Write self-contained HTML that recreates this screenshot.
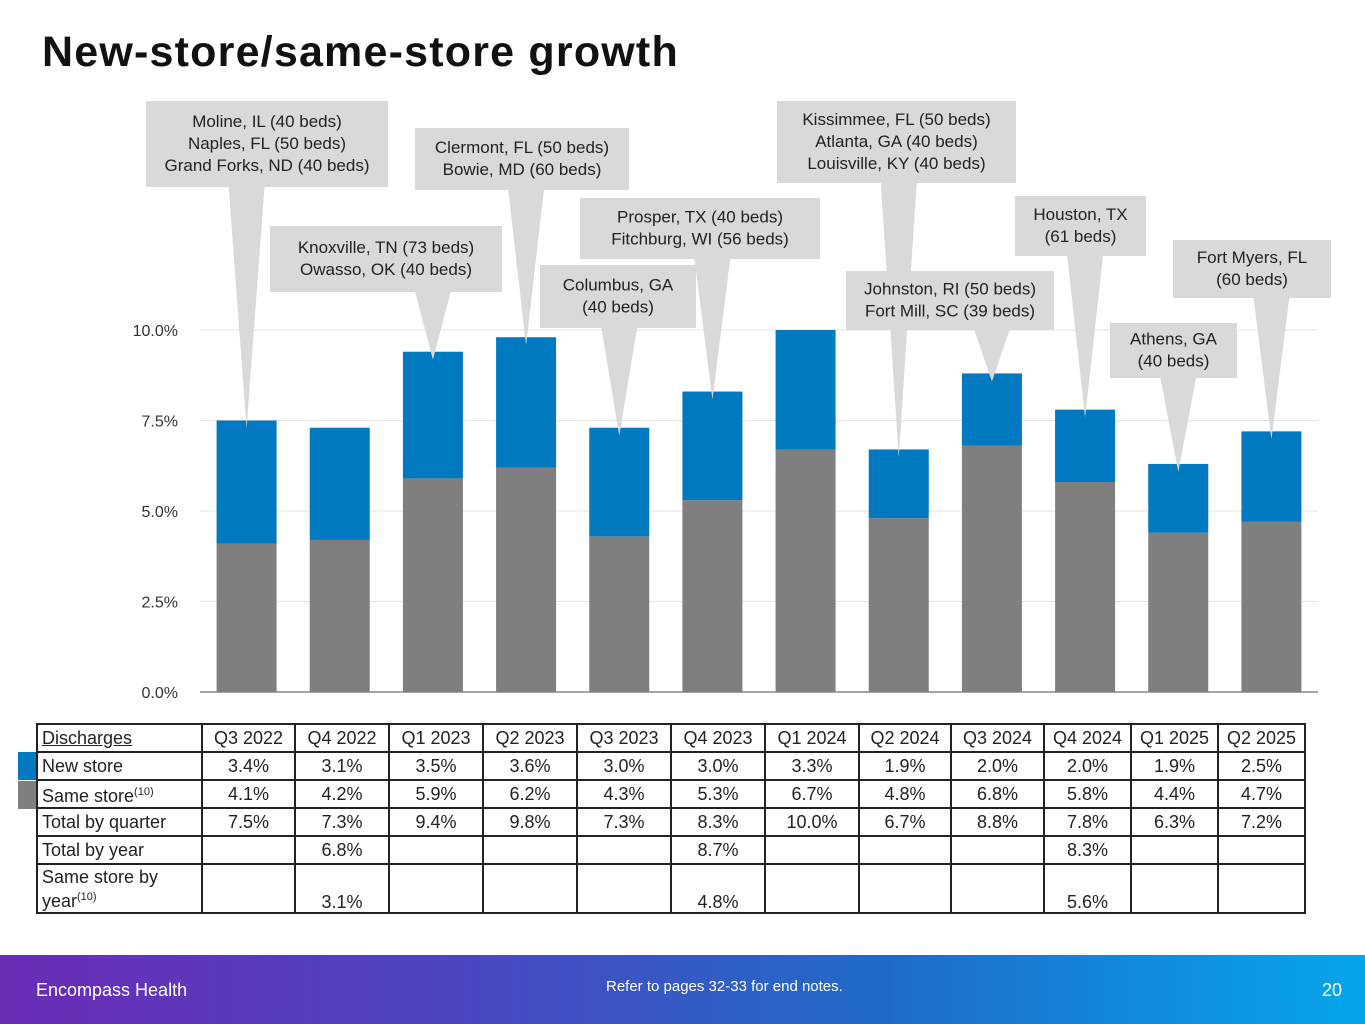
<!DOCTYPE html>
<html><head><meta charset="utf-8">
<style>
html,body{margin:0;padding:0;}
body{width:1365px;height:1024px;position:relative;overflow:hidden;background:#fff;font-family:"Liberation Sans","DejaVu Sans",sans-serif;color:#222;}
#title{position:absolute;left:42px;top:28px;font-size:43px;font-weight:bold;color:#111;margin:0;letter-spacing:1.2px;}
#chart{position:absolute;left:0;top:0;}
table{position:absolute;left:36px;top:723px;border-collapse:collapse;table-layout:fixed;font-size:18px;}
td{border:2px solid #222;padding:0 4px;height:26px;text-align:center;white-space:nowrap;line-height:22px;}
td.h{text-align:left;}
tr.last td{height:47px;vertical-align:bottom;line-height:20px;}
sup{font-size:11px;}
.sw{position:absolute;left:18px;width:18px;height:28px;}
#footer{position:absolute;left:0;top:955px;width:1365px;height:69px;background:linear-gradient(90deg,#6a2bb5 0%,#4a48c0 35%,#1f6cc8 65%,#06a6ea 100%);color:#fff;}
</style></head><body>
<h1 id="title">New-store/same-store growth</h1>
<svg id="chart" width="1365" height="720"></svg>
<div class="sw" style="top:752px;background:#0079c1"></div>
<div class="sw" style="top:781px;background:#7f7f7f"></div>
<table>
<colgroup><col style="width:165px"><col style="width:93px"><col style="width:94px"><col style="width:94px"><col style="width:94px"><col style="width:94px"><col style="width:94px"><col style="width:94px"><col style="width:92px"><col style="width:93px"><col style="width:87px"><col style="width:87px"><col style="width:87px"></colgroup>
<tr><td class="h"><u>Discharges</u></td><td>Q3 2022</td><td>Q4 2022</td><td>Q1 2023</td><td>Q2 2023</td><td>Q3 2023</td><td>Q4 2023</td><td>Q1 2024</td><td>Q2 2024</td><td>Q3 2024</td><td>Q4 2024</td><td>Q1 2025</td><td>Q2 2025</td></tr>
<tr><td class="h">New store</td><td>3.4%</td><td>3.1%</td><td>3.5%</td><td>3.6%</td><td>3.0%</td><td>3.0%</td><td>3.3%</td><td>1.9%</td><td>2.0%</td><td>2.0%</td><td>1.9%</td><td>2.5%</td></tr>
<tr><td class="h">Same store<sup>(10)</sup></td><td>4.1%</td><td>4.2%</td><td>5.9%</td><td>6.2%</td><td>4.3%</td><td>5.3%</td><td>6.7%</td><td>4.8%</td><td>6.8%</td><td>5.8%</td><td>4.4%</td><td>4.7%</td></tr>
<tr><td class="h">Total by quarter</td><td>7.5%</td><td>7.3%</td><td>9.4%</td><td>9.8%</td><td>7.3%</td><td>8.3%</td><td>10.0%</td><td>6.7%</td><td>8.8%</td><td>7.8%</td><td>6.3%</td><td>7.2%</td></tr>
<tr><td class="h">Total by year</td><td></td><td>6.8%</td><td></td><td></td><td></td><td>8.7%</td><td></td><td></td><td></td><td>8.3%</td><td></td><td></td></tr>
<tr class="last"><td class="h" style="vertical-align:middle">Same store by<br>year<sup>(10)</sup></td><td></td><td>3.1%</td><td></td><td></td><td></td><td>4.8%</td><td></td><td></td><td></td><td>5.6%</td><td></td><td></td></tr>
</table>
<div id="footer">
<div style="position:absolute;left:36px;top:25px;font-size:18px">Encompass Health</div>
<div style="position:absolute;left:606px;top:23px;font-size:15px">Refer to pages 32-33 for end notes.</div>
<div style="position:absolute;left:1322px;top:25px;font-size:18px">20</div>
</div>
<script>
const categories=["Q3 2022","Q4 2022","Q1 2023","Q2 2023","Q3 2023","Q4 2023","Q1 2024","Q2 2024","Q3 2024","Q4 2024","Q1 2025","Q2 2025"];
const sameStore=[4.1,4.2,5.9,6.2,4.3,5.3,6.7,4.8,6.8,5.8,4.4,4.7];
const newStore=[3.4,3.1,3.5,3.6,3.0,3.0,3.3,1.9,2.0,2.0,1.9,2.5];
const yTicks=[0,2.5,5,7.5,10];
const yTickLabels=["0.0%","2.5%","5.0%","7.5%","10.0%"];
const calloutTexts=[["Moline, IL (40 beds)","Naples, FL (50 beds)","Grand Forks, ND (40 beds)"],["Knoxville, TN (73 beds)","Owasso, OK (40 beds)"],["Clermont, FL (50 beds)","Bowie, MD (60 beds)"],["Columbus, GA","(40 beds)"],["Prosper, TX (40 beds)","Fitchburg, WI (56 beds)"],["Kissimmee, FL (50 beds)","Atlanta, GA (40 beds)","Louisville, KY (40 beds)"],["Johnston, RI (50 beds)","Fort Mill, SC (39 beds)"],["Houston, TX","(61 beds)"],["Athens, GA","(40 beds)"],["Fort Myers, FL","(60 beds)"]];
const calloutBars=[0,2,3,4,5,7,8,9,10,11];
const boxes=[[146,101,242,86],[270,226,232,66],[415,128,214,62],[540,265,156,63],[580,198,240,61],[777,101,239,82],[846,271,208,59],[1015,196,131,60],[1110,323,127,55],[1173,240,158,58]];
const ns="http://www.w3.org/2000/svg";
const svg=document.getElementById('chart');
const X0=200,X1=1318,Y0=692,PX=36.2;
const step=(X1-X0)/categories.length;
function xc(i){return X0+step*(i+0.5);}
function y(v){return Y0-v*PX;}
function mk(t,a){const e=document.createElementNS(ns,t);for(const k in a)e.setAttribute(k,a[k]);svg.appendChild(e);return e;}
yTicks.forEach((v,i)=>{
 const g=mk('line',{x1:X0,x2:X1,y1:y(v),y2:y(v),stroke:i===0?'#888':'#e3e3e3','stroke-width':i===0?1.5:1});
 
 
 const t=mk('text',{x:178,y:y(v)+6,'text-anchor':'end','font-size':16,fill:'#333'});
 t.textContent=yTickLabels[i];
 
 
});
const bw=60;
categories.forEach((c,i)=>{
 const s=mk('rect',{x:xc(i)-bw/2,y:y(sameStore[i]),width:bw,height:sameStore[i]*PX,fill:'#7f7f7f'});
 
 
 const n=mk('rect',{x:xc(i)-bw/2,y:y(sameStore[i]+newStore[i]),width:bw,height:newStore[i]*PX,fill:'#0079c1'});
 
 
});
boxes.forEach((b,k)=>{
 const bi=calloutBars[k];
 const tx=xc(bi),ty=y(sameStore[bi]+newStore[bi])+8;
 const bx=Math.min(Math.max(tx,b[0]+25),b[0]+b[2]-25);
 const p=mk('polygon',{points:(bx-18)+','+(b[1]+b[3]-1)+' '+(bx+18)+','+(b[1]+b[3]-1)+' '+tx+','+ty,fill:'#d9d9d9'});
 
 
 const r=mk('rect',{x:b[0],y:b[1],width:b[2],height:b[3],fill:'#d9d9d9'});
 
 
 const lines=calloutTexts[k];
 const lh=22,top=b[1]+b[3]/2-lines.length*lh/2+16;
 lines.forEach((l,j)=>{
  const t=mk('text',{x:b[0]+b[2]/2,y:top+j*lh,'text-anchor':'middle','font-size':17,fill:'#222'});
  t.textContent=l;
  
  
 });
});
</script>
</body></html>
